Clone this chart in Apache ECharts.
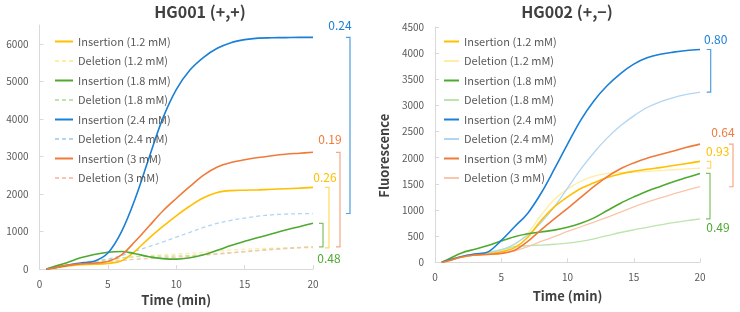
<!DOCTYPE html>
<html>
<head>
<meta charset="utf-8">
<script src="https://cdn.jsdelivr.net/npm/echarts@6/dist/echarts.min.js"></script>
<style>
  html, body { margin: 0; padding: 0; background: #fff; }
  .wrap { width: 740px; height: 312px; position: relative; }
  .echart { position: absolute; top: 0; width: 370px; height: 312px; }
</style>
</head>
<body>
<div class="wrap">
  <div id="left" class="echart" style="left:0"></div>
  <div id="right" class="echart" style="left:370px"></div>
</div>
<script>
// time points (min)
const time = [0.5, 1, 2, 3, 4, 5, 6, 7, 8, 9, 10, 11, 12, 13, 14, 15, 16, 17, 18, 19, 20];

const seriesNames = [
  'Insertion (1.2 mM)', 'Deletion (1.2 mM)',
  'Insertion (1.8 mM)', 'Deletion (1.8 mM)',
  'Insertion (2.4 mM)', 'Deletion (2.4 mM)',
  'Insertion (3 mM)', 'Deletion (3 mM)'
];

// HG001 (+,+)
const hg001Ins12 = [0, 20, 80, 120, 130, 150, 220, 480, 820, 1130, 1420, 1680, 1900, 2040, 2090, 2100, 2110, 2125, 2140, 2155, 2175];
const hg001Del12 = [0, 30, 90, 140, 180, 220, 280, 330, 360, 380, 400, 420, 450, 480, 510, 530, 545, 555, 560, 563, 565];
const hg001Ins18 = [0, 60, 170, 300, 390, 450, 470, 410, 330, 280, 265, 300, 380, 500, 630, 740, 840, 940, 1040, 1130, 1220];
const hg001Del18 = [0, 30, 100, 160, 200, 250, 300, 330, 340, 345, 350, 360, 380, 410, 440, 470, 500, 530, 555, 575, 590];
const hg001Ins24 = [0, 30, 100, 160, 210, 430, 1000, 1880, 2950, 4000, 4780, 5300, 5640, 5880, 6030, 6110, 6150, 6160, 6165, 6170, 6170];
const hg001Del24 = [0, 30, 100, 170, 220, 270, 360, 480, 600, 720, 850, 980, 1110, 1220, 1300, 1360, 1410, 1445, 1465, 1475, 1480];
const hg001Ins3 = [0, 30, 100, 140, 160, 200, 380, 740, 1140, 1540, 1880, 2200, 2500, 2720, 2840, 2910, 2970, 3020, 3060, 3085, 3110];
const hg001Del3 = [0, 30, 100, 150, 180, 200, 230, 260, 280, 300, 320, 340, 370, 400, 430, 460, 490, 520, 545, 570, 590];

// HG002 (+,−)
const hg002Ins12 = [0, 30, 100, 140, 160, 200, 280, 480, 800, 1060, 1250, 1410, 1520, 1620, 1690, 1740, 1780, 1810, 1850, 1890, 1930];
const hg002Del12 = [0, 30, 100, 140, 160, 210, 330, 560, 900, 1200, 1400, 1550, 1650, 1700, 1715, 1725, 1740, 1755, 1770, 1785, 1800];
const hg002Ins18 = [0, 60, 180, 250, 320, 410, 490, 545, 580, 615, 670, 745, 850, 990, 1130, 1250, 1360, 1450, 1540, 1620, 1700];
const hg002Del18 = [0, 30, 100, 150, 190, 240, 300, 320, 330, 345, 365, 400, 450, 510, 570, 620, 670, 715, 760, 795, 830];
const hg002Ins24 = [0, 40, 110, 160, 200, 420, 680, 940, 1320, 1780, 2260, 2720, 3090, 3380, 3610, 3790, 3910, 3980, 4020, 4050, 4070];
const hg002Del24 = [0, 30, 100, 150, 180, 240, 350, 520, 760, 1060, 1420, 1780, 2100, 2380, 2610, 2800, 2960, 3070, 3150, 3210, 3255];
const hg002Ins3 = [0, 30, 100, 140, 150, 170, 230, 400, 620, 830, 1030, 1240, 1450, 1640, 1790, 1900, 1990, 2060, 2130, 2200, 2260];
const hg002Del3 = [0, 30, 100, 140, 150, 170, 220, 300, 400, 490, 590, 680, 770, 860, 960, 1060, 1150, 1230, 1310, 1380, 1445];

// ratio labels (deletion / insertion at 20 min): 1.2, 1.8, 2.4, 3 mM
const hg001Ratios = ['0.26', '0.48', '0.24', '0.19'];
const hg002Ratios = ['0.93', '0.49', '0.80', '0.64'];

const colors = ['#FFC000', '#FFEDA3', '#4DAA2F', '#BDE4AC', '#1A7FD6', '#B2D5F2', '#F07A3A', '#F8C6AA'];
const bracketColors = ['#FFD966', '#7CC45E', '#4E9EE0', '#F5A886'];
const FONT = '"Noto Sans CJK SC", "Noto Sans", sans-serif';
const GRAY = '#595959';

function pairs(values) {
  return values.map((v, i) => [time[i], v]);
}

function buildLines(sets, dashedDeletion) {
  return sets.map((values, i) => {
    const isDel = i % 2 === 1;
    return {
      name: seriesNames[i],
      type: 'line',
      data: pairs(values),
      smooth: 0.35,
      showSymbol: false,
      symbol: 'none',
      silent: true,
      color: colors[i],
      lineStyle: {
        color: colors[i],
        width: isDel ? 1.3 : 1.6,
        type: isDel && dashedDeletion ? [4, 3] : 'solid'
      },
      z: isDel ? 2 : 3
    };
  });
}

// "]" shaped bracket beside the last point, with its ratio text
function bracket(top, bottom, text, color, textColor, xOff, textDx, textAbove, textGap) {
  return {
    type: 'custom',
    silent: true,
    clip: false,
    data: [[20, top, bottom]],
    encode: { x: 0, y: 1 },
    z: 5,
    renderItem: function (params, api) {
      const x = api.coord([20, 0])[0] + xOff;
      const yt = api.coord([20, api.value(1)])[1];
      const yb = api.coord([20, api.value(2)])[1];
      return {
        type: 'group',
        children: [
          {
            type: 'polyline',
            shape: { points: [[x - 4, yt], [x, yt], [x, yb], [x - 4, yb]] },
            style: { stroke: color, fill: null, lineWidth: 1.2 }
          },
          {
            type: 'text',
            style: {
              text: text,
              x: x + textDx,
              y: textAbove ? yt - textGap : yb + textGap,
              align: 'center',
              verticalAlign: 'middle',
              fill: textColor,
              font: '12px ' + FONT
            }
          }
        ]
      };
    }
  };
}

function baseOption(cfg) {
  return {
    animation: false,
    textStyle: { fontFamily: FONT },
    graphic: [{
      type: 'text',
      x: cfg.titleX,
      y: 12,
      style: {
        text: cfg.title,
        align: 'center',
        verticalAlign: 'middle',
        font: 'bold 16px ' + FONT,
        fill: '#404040'
      }
    }],
    legend: {
      orient: 'vertical',
      left: cfg.legendLeft,
      top: 31,
      itemWidth: cfg.legendItemWidth,
      itemHeight: 10,
      itemGap: 8.5,
      data: seriesNames,
      selectedMode: false,
      itemStyle: { opacity: 0 },
      textStyle: { color: GRAY, fontSize: 11, fontFamily: FONT }
    },
    grid: cfg.grid,
    xAxis: {
      type: 'value',
      min: 0,
      max: 20,
      interval: 5,
      name: 'Time (min)',
      nameLocation: 'middle',
      nameGap: cfg.xNameGap,
      nameTextStyle: { color: '#404040', fontSize: 13, fontWeight: 'bold', fontFamily: FONT },
      axisLine: { lineStyle: { color: '#D9D9D9' } },
      axisTick: { inside: true, length: 4, lineStyle: { color: '#D9D9D9' } },
      axisLabel: { color: GRAY, fontSize: 10, margin: 10, fontFamily: FONT },
      splitLine: { show: false }
    },
    yAxis: {
      type: 'value',
      min: 0,
      max: cfg.yMax,
      interval: cfg.yInterval,
      name: cfg.yName,
      nameLocation: 'middle',
      nameGap: 43,
      nameTextStyle: { color: '#404040', fontSize: 13, fontWeight: 'bold', fontFamily: FONT, padding: [0, 22, 0, 0] },
      axisLine: { show: true, lineStyle: { color: '#D9D9D9' } },
      axisTick: { show: true, inside: true, length: 4, lineStyle: { color: '#D9D9D9' } },
      axisLabel: {
        color: GRAY, fontSize: 10, margin: 11, fontFamily: FONT, showMaxLabel: cfg.showMax,
        formatter: v => String(v)
      },
      splitLine: { show: false }
    },
    series: cfg.series
  };
}

const leftSets = [hg001Ins12, hg001Del12, hg001Ins18, hg001Del18, hg001Ins24, hg001Del24, hg001Ins3, hg001Del3];
const rightSets = [hg002Ins12, hg002Del12, hg002Ins18, hg002Del18, hg002Ins24, hg002Del24, hg002Ins3, hg002Del3];
const last = arr => arr[arr.length - 1];

const leftOption = baseOption({
  title: 'HG001 (+,+)',
  titleX: 200,
  legendLeft: 49,
  legendItemWidth: 18,
  grid: { left: 39.5, right: 57, top: 25, bottom: 41 },
  xNameGap: 23,
  yMax: 6500,
  yInterval: 1000,
  showMax: false,
  yName: '',
  series: buildLines(leftSets, true).concat([
    bracket(last(hg001Ins24), last(hg001Del24), hg001Ratios[2], bracketColors[2], colors[4], 37, -10, true, 12),
    bracket(last(hg001Ins3), last(hg001Del3), hg001Ratios[3], bracketColors[3], colors[6], 27, -10, true, 13),
    bracket(last(hg001Ins12), last(hg001Del12), hg001Ratios[0], bracketColors[0], colors[0], 16, -4, true, 10),
    bracket(last(hg001Ins18), last(hg001Del18), hg001Ratios[1], bracketColors[1], colors[2], 10, 6, false, 11)
  ])
});

const rightOption = baseOption({
  title: 'HG002 (+,\u2212)',
  titleX: 197,
  legendLeft: 68,
  legendItemWidth: 15,
  grid: { left: 57.7, right: 40, top: 27, bottom: 49.7 },
  xNameGap: 27,
  yMax: 4500,
  yInterval: 500,
  showMax: true,
  yName: 'Fluorescence',
  series: buildLines(rightSets, false).concat([
    bracket(last(hg002Ins24), last(hg002Del24), hg002Ratios[2], bracketColors[2], colors[4], 10.7, 5, true, 10),
    bracket(last(hg002Ins3), last(hg002Del3), hg002Ratios[3], bracketColors[3], colors[6], 33, -10, true, 12),
    bracket(last(hg002Ins12), last(hg002Del12), hg002Ratios[0], bracketColors[0], colors[0], 10.7, 7, true, 10),
    bracket(last(hg002Ins18), last(hg002Del18), hg002Ratios[1], bracketColors[1], colors[2], 10, 8, false, 9)
  ])
});

const leftChart = echarts.init(document.getElementById('left'));
leftChart.setOption(leftOption);
const rightChart = echarts.init(document.getElementById('right'));
rightChart.setOption(rightOption);
</script>
</body>
</html>
